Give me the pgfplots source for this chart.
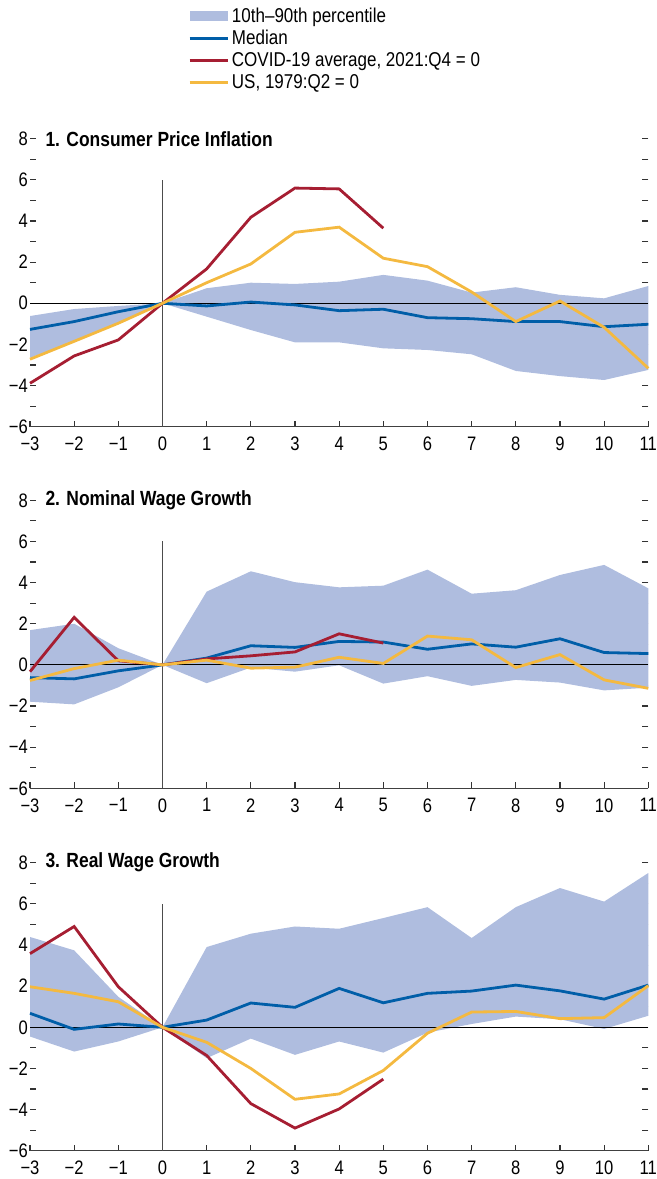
\documentclass[border=0pt]{standalone}
\usepackage{fontspec}
\setmainfont{Liberation Sans}[FakeStretch=0.85]
\usepackage{pgfplots}
\usepackage{pgfplotstable}
\pgfplotsset{compat=1.18}
\usepgfplotslibrary{fillbetween}

\definecolor{band}{RGB}{175,189,223}
\definecolor{medblue}{RGB}{0,94,168}
\definecolor{covred}{RGB}{166,30,50}
\definecolor{usyel}{RGB}{244,185,64}

\pgfplotstableread{
x lo hi med cov us
-3 -2.65 -0.62 -1.27 -3.89 -2.72
-2 -1.85 -0.28 -0.89 -2.56 -1.85
-1 -0.97 -0.13 -0.41 -1.78 -0.97
0 0 0 0 0 0
1 -0.65 0.73 -0.13 1.67 1.0
2 -1.30 1.0 0.06 4.18 1.91
3 -1.90 0.94 -0.08 5.6 3.45
4 -1.90 1.05 -0.36 5.56 3.7
5 -2.19 1.38 -0.29 3.65 2.19
6 -2.27 1.10 -0.70 nan 1.78
7 -2.48 0.52 -0.75 nan 0.55
8 -3.29 0.78 -0.89 nan -0.89
9 -3.54 0.41 -0.89 nan 0.11
10 -3.73 0.24 -1.14 nan -1.17
11 -3.24 0.84 -1.02 nan -3.16
}\cpi

\pgfplotstableread{
x lo hi med cov us
-3 -1.79 1.69 -0.62 -0.33 -0.76
-2 -1.92 2.0 -0.68 2.31 -0.18
-1 -1.09 0.81 -0.29 0.2 0.23
0 0 0 0 0 0
1 -0.89 3.56 0.33 0.29 0.23
2 -0.13 4.55 0.93 0.44 -0.16
3 -0.33 4.02 0.85 0.63 -0.11
4 -0.02 3.77 1.14 1.51 0.37
5 -0.91 3.85 1.11 1.06 0.07
6 -0.55 4.63 0.76 nan 1.40
7 -1.02 3.46 1.02 nan 1.22
8 -0.73 3.63 0.86 nan -0.13
9 -0.86 4.37 1.27 nan 0.50
10 -1.24 4.86 0.60 nan -0.73
11 -1.11 3.72 0.55 nan -1.14
}\nom

\pgfplotstableread{
x lo hi med cov us
-3 -0.45 4.39 0.68 3.58 1.97
-2 -1.18 3.74 -0.10 4.9 1.65
-1 -0.69 1.48 0.16 1.97 1.24
0 0 0 0 0 0
1 -1.5 3.9 0.35 -1.37 -0.73
2 -0.55 4.55 1.18 -3.71 -2.0
3 -1.34 4.9 0.97 -4.9 -3.5
4 -0.69 4.79 1.89 -3.97 -3.24
5 -1.23 5.31 1.19 -2.52 -2.1
6 -0.26 5.84 1.65 nan -0.29
7 0.16 4.34 1.76 nan 0.74
8 0.52 5.84 2.05 nan 0.77
9 0.39 6.77 1.77 nan 0.42
10 -0.08 6.11 1.37 nan 0.47
11 0.56 7.5 2.05 nan 2.02
}\real

\pgfplotsset{
  panel/.style={
    scale only axis, width=618.3bp, height=288bp,
    xmin=-3, xmax=11, ymin=-6, ymax=8,
    axis x line*=bottom,
    y axis line style={draw=none},
    x axis line style={color=black!75, line width=1.1bp},
    xtick={-3,...,11},
    xticklabels={−3,−2,−1,0,1,2,3,4,5,6,7,8,9,10,11},
    ytick={-6,-4,...,8},
    yticklabels={−6,−4,−2,0,2,4,6,8},
    minor ytick={-5,-3,...,7},
    ytick pos=both, yticklabel pos=left,
    tick align=inside,
    major tick length=6bp, minor tick length=6bp,
    every tick/.style={black!80, line width=1.1bp},
    every minor tick/.style={black!80, line width=1.1bp},
    tick label style={font=\fontsize{19.5bp}{21bp}\selectfont},
    yticklabel style={inner xsep=2bp},
    xticklabel style={yshift=-9bp, inner ysep=1bp},
    clip=false,
  },
  lineleg/.style={legend image code/.code={\draw[##1] (0bp,0bp) -- (38bp,0bp);}},
  serie/.style={line width=2.8bp},
}

\newcommand{\panelbody}[2]{%
  \addplot[name path=hi, draw=none, forget plot] table[x=x,y=hi]{#1};
  \addplot[name path=lo, draw=none, forget plot] table[x=x,y=lo]{#1};
  \addplot[fill=band, draw=none, legend image code/.code={\fill[band] (0bp,-5bp) rectangle (38bp,5bp);}] fill between[of=hi and lo];
  \addplot[forget plot, black, line width=0.9bp] coordinates {(-3,0) (11,0)};
  \addplot[forget plot, black!70, line width=1.1bp] coordinates {(0,-6) (0,6)};
  \addplot[medblue, serie, lineleg] table[x=x,y=med]{#1};
  \addplot[covred, serie, lineleg] table[x=x,y=cov]{#1};
  \addplot[usyel, serie, lineleg] table[x=x,y=us]{#1};
  \node[anchor=west, xshift=12bp, font=\bfseries\fontsize{20.5bp}{22bp}\selectfont] at (rel axis cs:0,1) {#2};
}

\begin{document}
\begin{tikzpicture}
\begin{axis}[panel, at={(30bp,-426.7bp)}, anchor=south west,
  legend style={at={(axis description cs:0.2555,1.458)}, anchor=north west,
    draw=none, fill=none, inner sep=0pt, row sep=4.5bp,
    font=\fontsize{20bp}{21bp}\selectfont,
    nodes={inner xsep=3bp, inner ysep=1bp}},
  legend cell align=left]
\panelbody{\cpi}{1. Consumer Price Inflation}
\legend{10th–90th percentile, Median, {COVID-19 average, 2021:Q4 = 0}, {US, 1979:Q2 = 0}}
\end{axis}
\begin{axis}[panel, at={(30bp,-788.3bp)}, anchor=south west]
\panelbody{\nom}{2. Nominal Wage Growth}
\end{axis}
\begin{axis}[panel, at={(30bp,-1150.7bp)}, anchor=south west]
\panelbody{\real}{3. Real Wage Growth}
\end{axis}
\pgfresetboundingbox
\path[use as bounding box] (0bp,0bp) rectangle (657bp,-1179bp);
\end{tikzpicture}
\end{document}
